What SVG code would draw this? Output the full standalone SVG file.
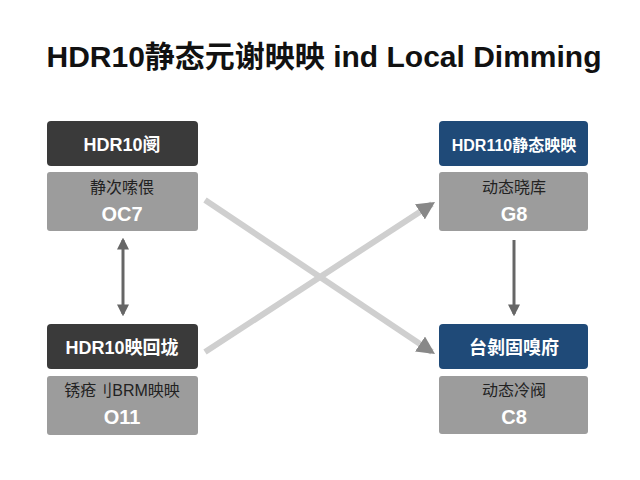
<svg xmlns="http://www.w3.org/2000/svg" width="640" height="480" viewBox="0 0 640 480">
<style>
text{font-family:"Liberation Sans","Noto Sans CJK SC",sans-serif;text-anchor:middle;font-weight:bold}
.h{fill:#fff;font-size:18px}
.s{fill:#222;font-size:16px;font-weight:normal}
.v{fill:#fff;font-size:20px}
.dk{fill:#3a3a3a}.bl{fill:#1f4a78}.bd{fill:#9c9c9c}
</style>
<defs>
<marker id="a" viewBox="0 0 10 10" refX="8" refY="5" markerWidth="4" markerHeight="4" orient="auto-start-reverse"><path d="M0,0L10,5L0,10z" fill="#666"/></marker>
<marker id="b" viewBox="0 0 10 10" refX="8" refY="5" markerWidth="3" markerHeight="3" orient="auto"><path d="M0,0L10,5L0,10z" fill="#888"/></marker>
</defs>
<rect width="640" height="480" fill="#fff"/>
<text x="324" y="67" style="font-size:30px;fill:#111">HDR10静态元谢映映 ind Local Dimming</text>
<g id="connectors" fill="none">
<line x1="205" y1="200" x2="432" y2="352" stroke="#cfcfcf" stroke-width="6" marker-end="url(#b)"/>
<line x1="205" y1="352" x2="432" y2="204" stroke="#cfcfcf" stroke-width="6" marker-end="url(#b)"/>
<line x1="123" y1="240" x2="123" y2="314" stroke="#666" stroke-width="3" marker-start="url(#a)" marker-end="url(#a)"/>
<line x1="514" y1="240" x2="514" y2="314" stroke="#666" stroke-width="3" marker-end="url(#a)"/>
</g>
<g id="n1"><rect x="47" y="121" width="151" height="45" rx="4" class="dk"/><rect x="47" y="172" width="151" height="59" rx="3" class="bd"/>
<text x="122" y="151" class="h">HDR10阌</text><text x="122" y="193" class="s">静次嗦偎</text><text x="122" y="221" class="v">OC7</text></g>
<g id="n2"><rect x="47" y="324" width="151" height="45" rx="4" class="dk"/><rect x="47" y="376" width="151" height="59" rx="3" class="bd"/>
<text x="122" y="354" class="h">HDR10映回垅</text><text x="122" y="396" class="s">锈疮刂BRM映映</text><text x="122" y="424" class="v">O11</text></g>
<g id="n3"><rect x="439" y="121" width="149" height="45" rx="4" class="bl"/><rect x="439" y="172" width="149" height="59" rx="3" class="bd"/>
<text x="514" y="151" class="h" style="font-size:16px">HDR110静态映映</text><text x="514" y="193" class="s">动态晓库</text><text x="514" y="221" class="v">G8</text></g>
<g id="n4"><rect x="439" y="324" width="149" height="45" rx="4" class="bl"/><rect x="439" y="376" width="149" height="58" rx="3" class="bd"/>
<text x="514" y="354" class="h">台剝固嗅府</text><text x="514" y="396" class="s">动态冷阀</text><text x="514" y="424" class="v">C8</text></g>
</svg>
